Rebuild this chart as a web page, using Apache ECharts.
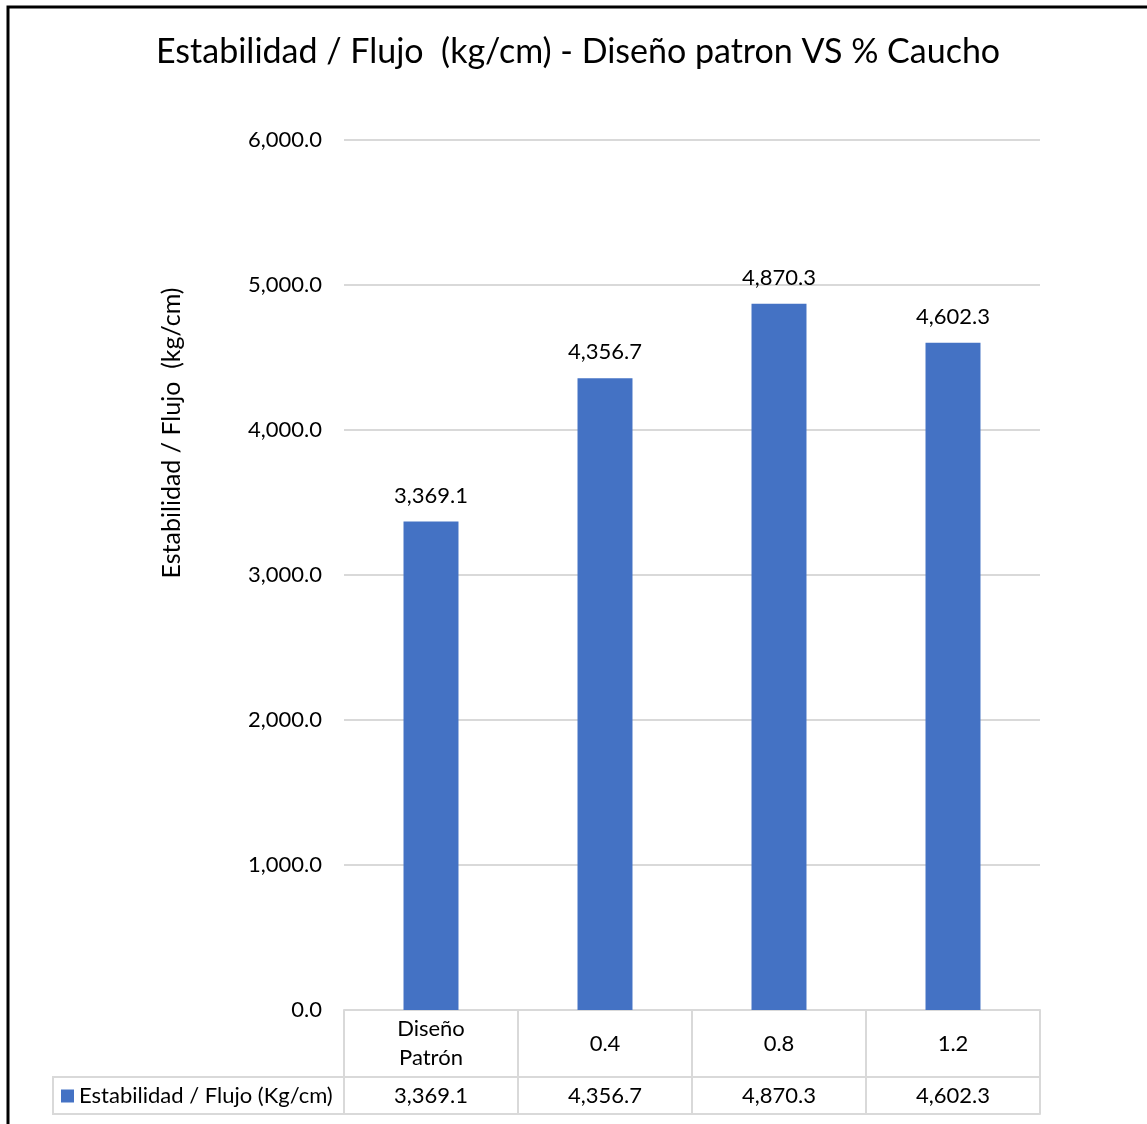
<!DOCTYPE html>
<html>
<head>
<meta charset="utf-8">
<script src="https://cdn.jsdelivr.net/npm/echarts@6/dist/echarts.min.js"></script>
<style>
  html, body { margin: 0; padding: 0; background: #ffffff; }
  #chart { width: 1147px; height: 1124px; }
</style>
</head>
<body>
<div id="chart"></div>
<script>
// Mix designs tested (rubber percentage vs. base design)
const categories = ['Diseño\nPatrón', '0.4', '0.8', '1.2'];
// Stability / flow ratio, kg/cm
const values = [3369.1, 4356.7, 4870.3, 4602.3];
const yTicks = { min: 0, max: 6000, interval: 1000 };

const seriesName = 'Estabilidad / Flujo (Kg/cm)';
const titleText = 'Estabilidad / Flujo  (kg/cm) - Diseño patron VS % Caucho';
const yAxisTitle = 'Estabilidad / Flujo  (kg/cm)';

const FONT = 'Lato, "Open Sans", sans-serif';
const GRID_LINE = '#d9d9d9';
const BAR = '#4472c4';
const fmt = v => v.toLocaleString('en-US', { minimumFractionDigits: 1, maximumFractionDigits: 1 });

const grid = { left: 344, right: 107, top: 140, bottom: 114 };
const plotBottom = 1124 - grid.bottom;
const headerRow = 67;   // height of the category row of the data table
const valueRow = 37;    // height of the values row

const chart = echarts.init(document.getElementById('chart'), null, { renderer: 'canvas' });

chart.setOption({
  backgroundColor: '#ffffff',
  animation: false,
  title: {
    text: titleText,
    left: 151,
    top: 30,
    textStyle: { fontFamily: FONT, fontSize: 34, fontWeight: 'normal', color: '#000000' }
  },
  legend: {
    data: [seriesName],
    left: 56,
    top: plotBottom + headerRow + 3,
    icon: 'rect',
    itemWidth: 13,
    itemHeight: 13,
    itemGap: 6,
    textStyle: { fontFamily: FONT, fontSize: 22, color: '#000000' }
  },
  grid: grid,
  xAxis: [
    {
      type: 'category',
      data: categories,
      position: 'bottom',
      axisLine: { show: true, lineStyle: { color: GRID_LINE, width: 2 } },
      axisTick: { show: true, length: headerRow, lineStyle: { color: GRID_LINE, width: 2 } },
      axisLabel: { fontFamily: FONT, fontSize: 22, color: '#000000', lineHeight: 29,
        margin: headerRow / 2, verticalAlign: 'middle' }
    },
    {
      type: 'category',
      data: values.map(fmt),
      position: 'bottom',
      offset: headerRow,
      axisLine: { show: true, lineStyle: { color: GRID_LINE, width: 2 } },
      axisTick: { show: true, length: valueRow, lineStyle: { color: GRID_LINE, width: 2 } },
      axisLabel: { fontFamily: FONT, fontSize: 22, color: '#000000', margin: valueRow / 2, verticalAlign: 'middle' }
    },
    {
      type: 'category',
      data: categories,
      position: 'bottom',
      offset: headerRow + valueRow,
      axisLine: { show: true, lineStyle: { color: GRID_LINE, width: 2 } },
      axisTick: { show: false },
      axisLabel: { show: false }
    }
  ],
  yAxis: {
    type: 'value',
    min: yTicks.min,
    max: yTicks.max,
    interval: yTicks.interval,
    axisLine: { show: false },
    axisTick: { show: false },
    splitLine: { lineStyle: { color: GRID_LINE, width: 2 } },
    axisLabel: { fontFamily: FONT, fontSize: 22, color: '#000000', margin: 22, formatter: fmt }
  },
  series: [
    {
      name: seriesName,
      type: 'bar',
      xAxisIndex: 0,
      data: values,
      barWidth: '31.6%',
      itemStyle: { color: BAR },
      label: {
        show: true,
        position: 'top',
        distance: 15,
        fontFamily: FONT,
        fontSize: 22,
        color: '#000000',
        formatter: p => fmt(p.value)
      }
    }
  ],
  graphic: [
    // outer chart frame
    { type: 'rect', shape: { x: 8, y: 7, width: 1400, height: 1400 }, style: { fill: 'none', stroke: '#000000', lineWidth: 3 }, silent: true },
    // legend key cell of the data table
    { type: 'rect', shape: { x: 53, y: plotBottom + headerRow, width: grid.left - 53, height: valueRow },
      style: { fill: 'none', stroke: GRID_LINE, lineWidth: 2 }, silent: true, z: 0 },
    // rotated y axis title
    { type: 'text', x: 172, y: 433, rotation: Math.PI / 2,
      style: { text: yAxisTitle, fontFamily: FONT, fontSize: 25, fill: '#000000', align: 'center', verticalAlign: 'middle' },
      silent: true }
  ]
});
</script>
</body>
</html>
